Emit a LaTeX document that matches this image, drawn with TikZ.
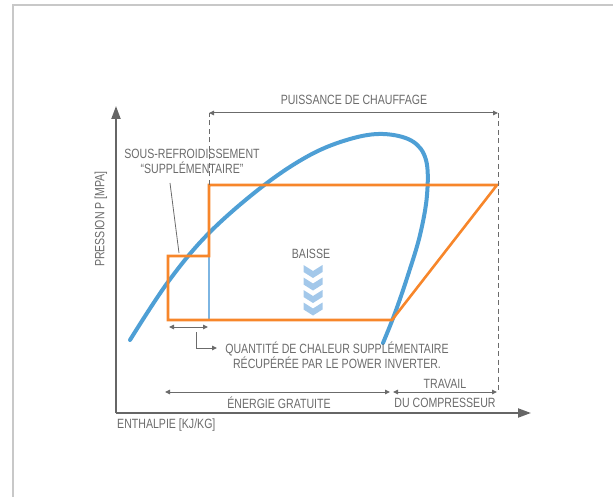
\documentclass[tikz,border=0pt]{standalone}
\usepackage{fontspec}
\setmainfont{Liberation Sans}[FakeStretch=0.79]
\usetikzlibrary{arrows.meta,calc}
\definecolor{txtgray}{HTML}{6B6B6B}
\definecolor{axgray}{HTML}{666666}
\definecolor{framegray}{HTML}{C8C8C8}
\definecolor{cycorange}{HTML}{F7862A}
\definecolor{domeblue}{HTML}{4E9FD5}
\definecolor{lightblue}{HTML}{7DB5E2}
\definecolor{chevblue}{HTML}{A3C8EA}
\begin{document}
\begin{tikzpicture}[x=1bp,y=-1bp,
  lbl/.style={text=txtgray,font=\fontsize{13.4bp}{15bp}\selectfont,inner sep=0pt},
  axis/.style={draw=axgray,line width=2bp,-{Triangle[length=13bp,width=9bp]}},
  dim/.style={draw=txtgray,line width=1bp,{Triangle[length=5bp,width=4.5bp]}-{Triangle[length=5bp,width=4.5bp]}},
  ptr/.style={draw=txtgray,line width=1bp,-{Triangle[length=5bp,width=4.5bp]}},
  guide/.style={draw=txtgray,line width=0.9bp,dash pattern=on 5bp off 3.5bp},
  cycle/.style={draw=cycorange,line width=2.6bp,line join=miter},
  dome/.style={draw=domeblue,line width=4bp,line cap=round},
  chev/.style={fill=chevblue,draw=none}]
\useasboundingbox (0,0) rectangle (613,497);
% frame
\draw[framegray,line width=1.6bp] (13,497) -- (13,5) -- (613,5);

% coordinates
\coordinate (O) at (116,413);
\coordinate (Ytop) at (116,106);
\coordinate (Xend) at (531,413);
\coordinate (A) at (168,320);
\coordinate (B) at (168,256);
\coordinate (C) at (209,256);
\coordinate (D) at (209,185);
\coordinate (E) at (497,185);
\coordinate (F) at (392,320);
\coordinate (G) at (209,320);

% dome
\draw[dome] plot[smooth,tension=0.6] coordinates {(130,340) (168,282) (209,233) (263,186) (310,155) (350,139) (383,134) (412,141) (426,160) (427,195) (420,235) (408,275) (395,313) (383,343)};

% cycle
\draw[lightblue,line width=2bp] (C) -- (G);
\draw[cycle] (A) -- (B) -- (C) -- (D) -- (E) -- (F) -- cycle;

% axes
\draw[axis] (O) -- (Ytop);
\draw[axis] (O) -- (Xend);

% guides
\coordinate (Dtop) at (209,113);
\coordinate (Rtop) at (498,113);
\coordinate (Rbot) at (498,392);
\draw[guide] (D) -- (Dtop);
\draw[guide] (Rtop) -- (Rbot);
\draw[dim] (Dtop) -- (Rtop);
\node[lbl] (puiss) at (354,100) {PUISSANCE DE CHAUFFAGE};

% sous-refroidissement
\node[lbl,align=center] (sous) at (192,161) {SOUS-REFROIDISSEMENT\\“SUPPLÉMENTAIRE”};
\coordinate (p1) at (170,183);
\coordinate (p2) at (179,253);
\draw[txtgray,line width=0.8bp] (p1) -- (p2);

% small dimension + pointer
\coordinate (s1) at (169,327);
\coordinate (s2) at (208,327);
\draw[dim] (s1) -- (s2);
\coordinate (q1) at (196,332);
\coordinate (q2) at (196,348);
\coordinate (q3) at (217,348);
\draw[ptr] (q1) -- (q2) -- (q3);
\node[lbl,align=center] (quant) at (337,355.5) {QUANTITÉ DE CHALEUR SUPPLÉMENTAIRE\\RÉCUPÉRÉE PAR LE POWER INVERTER.};

% baisse
\node[lbl] (baisse) at (311,254) {BAISSE};
\foreach \i in {0,1,2,3}{
  \fill[chev] ($(313,265)+(0,12.5*\i)$) ++(-9.5,0) -- ++(9.5,6) -- ++(9.5,-6) -- ++(0,7) -- ++(-9.5,6) -- ++(-9.5,-6) -- cycle;
}

% energie / travail
\coordinate (e1) at (165,392);
\coordinate (e2) at (390,392);
\coordinate (t1) at (393,392);
\coordinate (t2) at (497,392);
\draw[dim] (e1) -- (e2);
\draw[dim] (t1) -- (t2);
\node[lbl] (energ) at (279,403) {ÉNERGIE GRATUITE};
\node[lbl] (trav) at (445,384) {TRAVAIL};
\node[lbl] (compr) at (445,403) {DU COMPRESSEUR};

% axis labels
\node[lbl,anchor=west] (enth) at (117,425) {ENTHALPIE [KJ/KG]};
\node[lbl,rotate=90] (press) at (101,219) {PRESSION P [MPA]};
\end{tikzpicture}
\end{document}
